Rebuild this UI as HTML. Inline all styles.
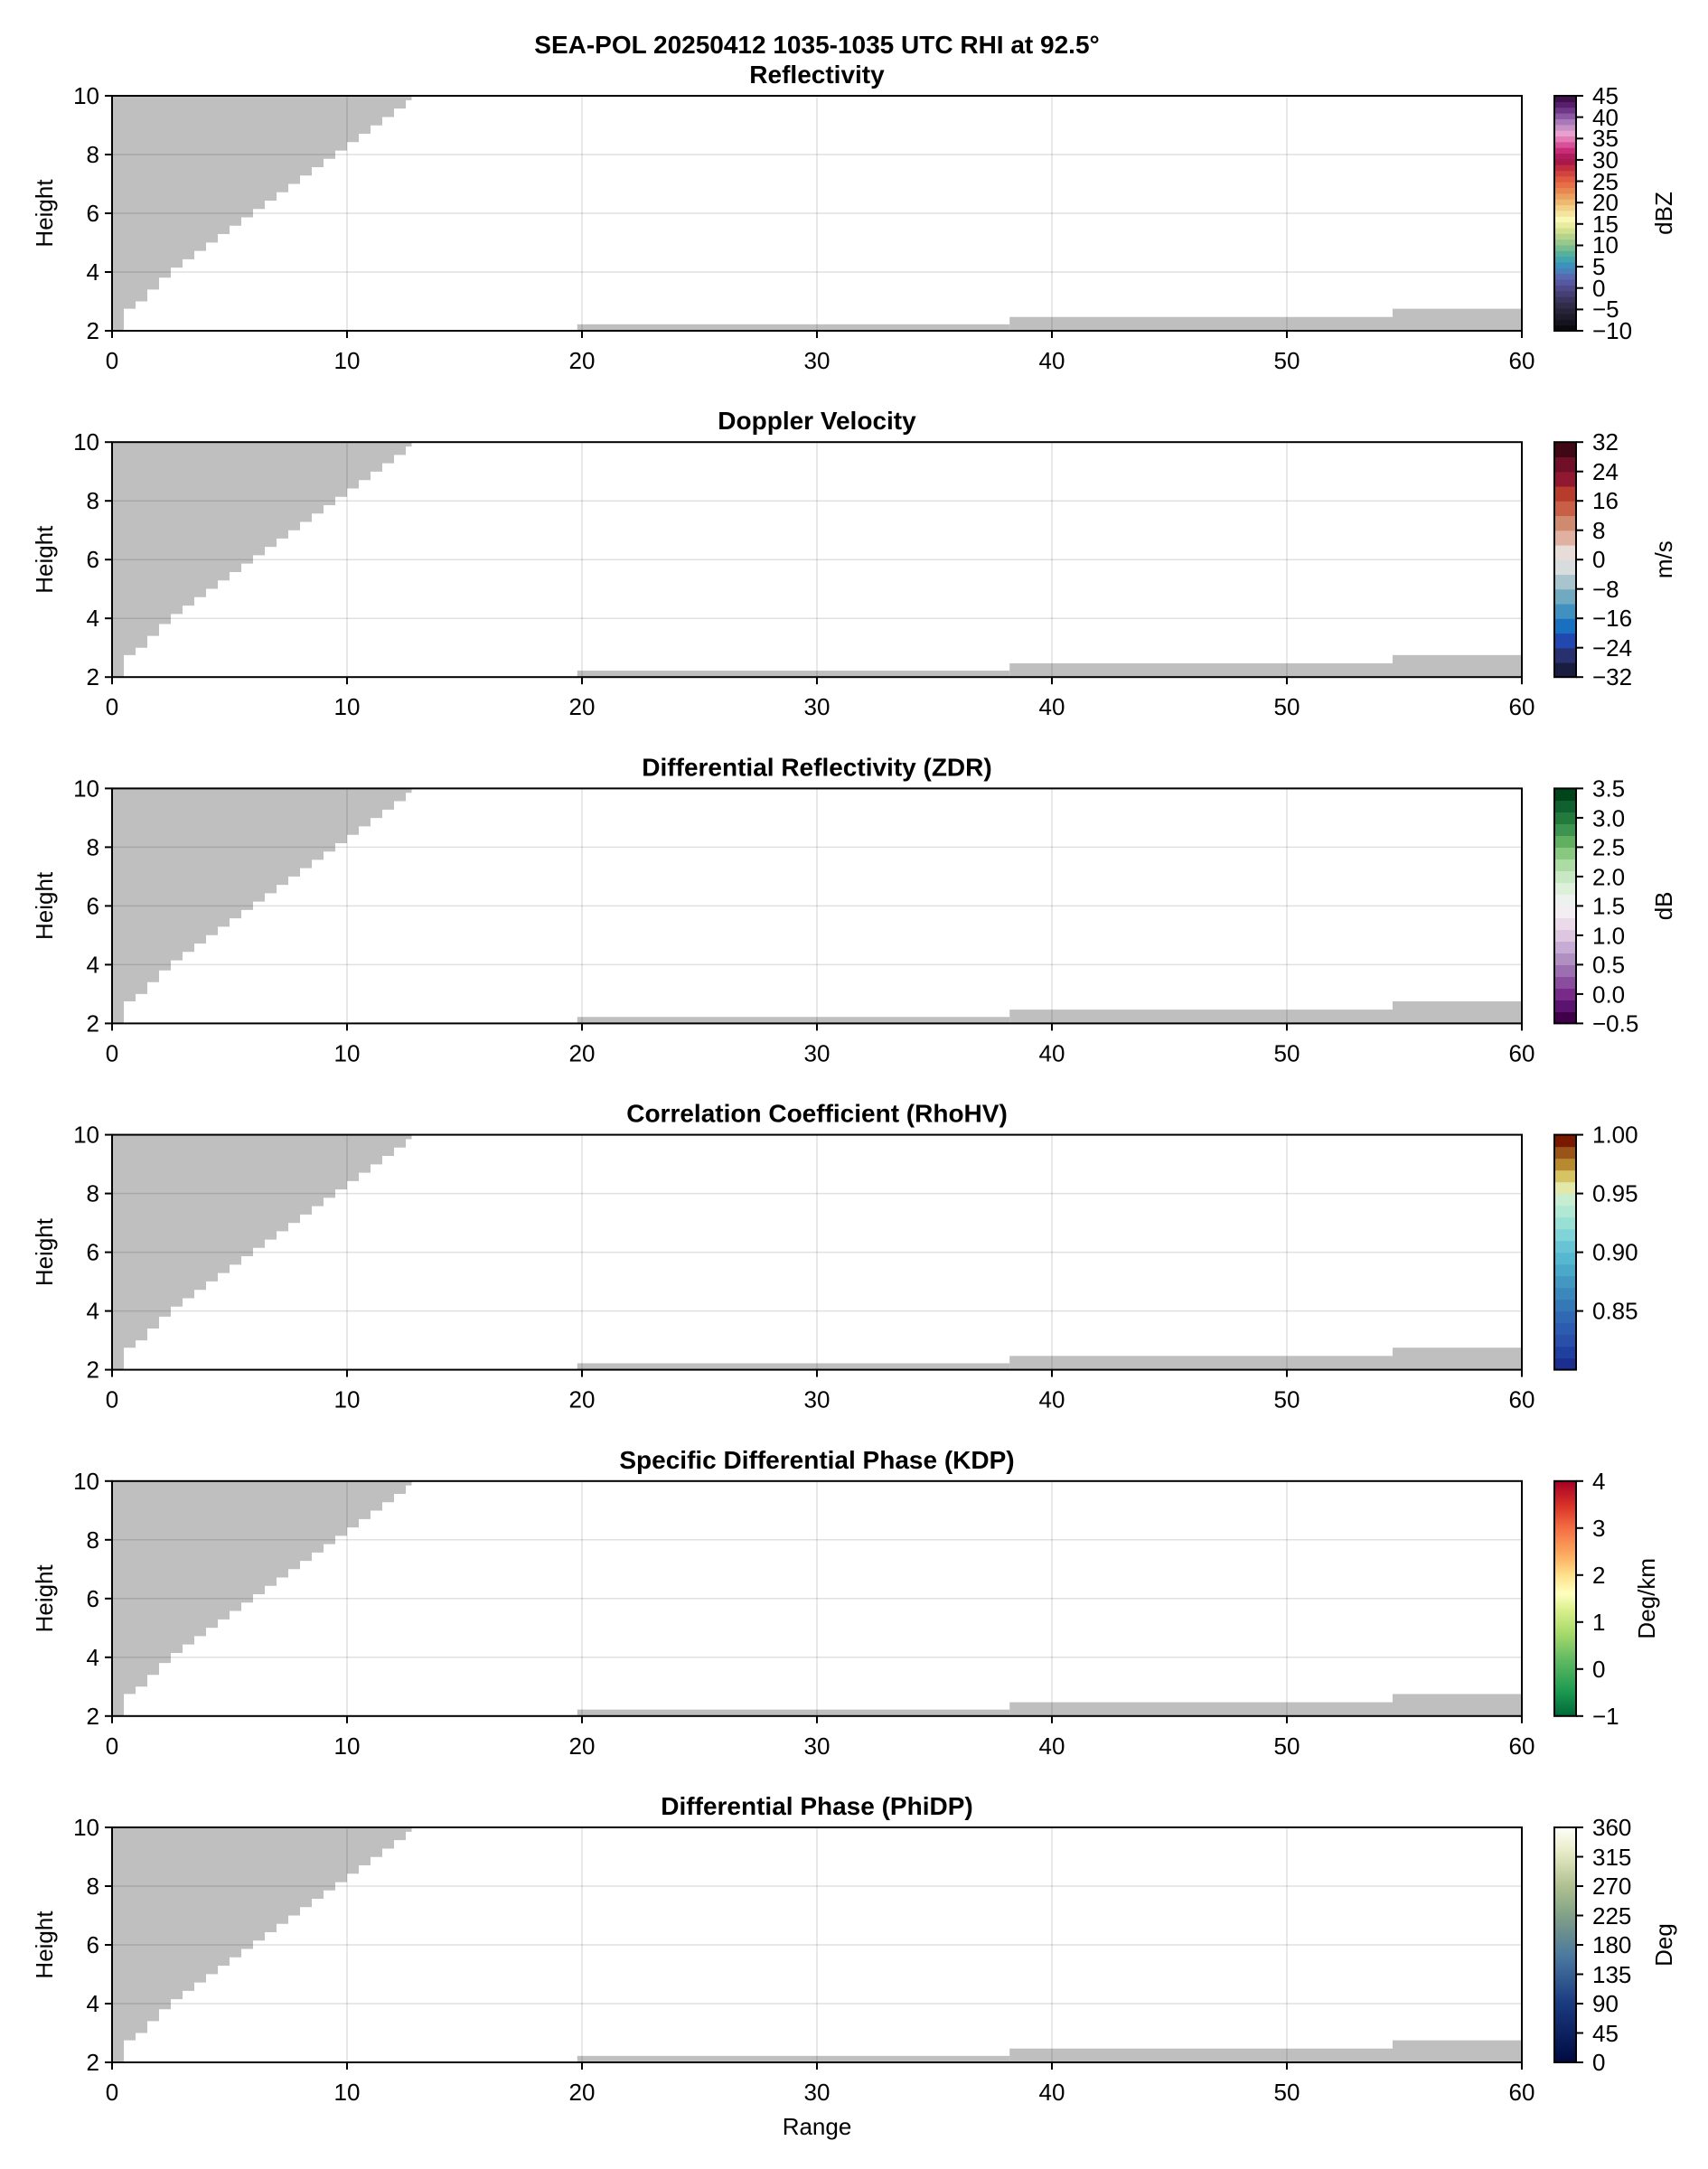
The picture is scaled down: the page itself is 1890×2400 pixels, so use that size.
<!DOCTYPE html>
<html><head><meta charset="utf-8"><style>
html,body{margin:0;padding:0;background:#fff}
svg{display:block;font-family:"Liberation Sans",sans-serif}
text{font-size:26px;fill:#000}
.t{font-weight:bold;text-anchor:middle;font-size:28px}
.yl{text-anchor:end}
.xl{text-anchor:middle}
</style></head><body>
<svg id="s" width="1890" height="2400" viewBox="0 0 1890 2400" xmlns="http://www.w3.org/2000/svg">
<defs>
<linearGradient id="gK" x1="0" y1="1" x2="0" y2="0">
<stop offset="0" stop-color="#006837"/><stop offset="0.1" stop-color="#1a9850"/><stop offset="0.25" stop-color="#66bd63"/><stop offset="0.35" stop-color="#a6d96a"/><stop offset="0.45" stop-color="#d9ef8b"/><stop offset="0.52" stop-color="#ffffbf"/><stop offset="0.6" stop-color="#fee08b"/><stop offset="0.68" stop-color="#fdae61"/><stop offset="0.8" stop-color="#f46d43"/><stop offset="0.9" stop-color="#d73027"/><stop offset="1" stop-color="#a50026"/>
</linearGradient>
<linearGradient id="gP" x1="0" y1="1" x2="0" y2="0">
<stop offset="0" stop-color="#000a40"/><stop offset="0.25" stop-color="#1a3a80"/><stop offset="0.45" stop-color="#4a78a0"/><stop offset="0.55" stop-color="#6a8e8e"/><stop offset="0.65" stop-color="#8aa888"/><stop offset="0.75" stop-color="#b0c090"/><stop offset="0.9" stop-color="#e8ecc8"/><stop offset="1" stop-color="#fffff8"/>
</linearGradient>
</defs>
<text class="t" x="904" y="59">SEA-POL 20250412 1035-1035 UTC RHI at 92.5°</text>

<g transform="translate(0,106)" id="p0">
<text class="t" x="904" y="-14">Reflectivity</text>
<text class="yl" x="110" y="9">10</text><text class="yl" x="110" y="74">8</text><text class="yl" x="110" y="139">6</text><text class="yl" x="110" y="204">4</text><text class="yl" x="110" y="269">2</text>
<text class="xl" x="124" y="302">0</text><text class="xl" x="384" y="302">10</text><text class="xl" x="644" y="302">20</text><text class="xl" x="904" y="302">30</text><text class="xl" x="1164" y="302">40</text><text class="xl" x="1424" y="302">50</text><text class="xl" x="1684" y="302">60</text>
<text transform="translate(58,130) rotate(-90)" class="xl">Height</text>
<text transform="translate(1850,130) rotate(-90)" class="xl">dBZ</text>
<g><text x="1762" y="9">45</text><text x="1762" y="33">40</text><text x="1762" y="56">35</text><text x="1762" y="80">30</text><text x="1762" y="104">25</text><text x="1762" y="127">20</text><text x="1762" y="151">15</text><text x="1762" y="174">10</text><text x="1762" y="198">5</text><text x="1762" y="222">0</text><text x="1762" y="245">−5</text><text x="1762" y="269">−10</text></g>
</g>

<g transform="translate(0,489.2)" id="p1">
<text class="t" x="904" y="-14">Doppler Velocity</text>
<text class="yl" x="110" y="9">10</text><text class="yl" x="110" y="74">8</text><text class="yl" x="110" y="139">6</text><text class="yl" x="110" y="204">4</text><text class="yl" x="110" y="269">2</text>
<text class="xl" x="124" y="302">0</text><text class="xl" x="384" y="302">10</text><text class="xl" x="644" y="302">20</text><text class="xl" x="904" y="302">30</text><text class="xl" x="1164" y="302">40</text><text class="xl" x="1424" y="302">50</text><text class="xl" x="1684" y="302">60</text>
<text transform="translate(58,130) rotate(-90)" class="xl">Height</text>
<text transform="translate(1850,130) rotate(-90)" class="xl">m/s</text>
<g><text x="1762" y="9">32</text><text x="1762" y="42">24</text><text x="1762" y="74">16</text><text x="1762" y="107">8</text><text x="1762" y="139">0</text><text x="1762" y="172">−8</text><text x="1762" y="204">−16</text><text x="1762" y="237">−24</text><text x="1762" y="269">−32</text></g>
</g>

<g transform="translate(0,872.4)" id="p2">
<text class="t" x="904" y="-14">Differential Reflectivity (ZDR)</text>
<text class="yl" x="110" y="9">10</text><text class="yl" x="110" y="74">8</text><text class="yl" x="110" y="139">6</text><text class="yl" x="110" y="204">4</text><text class="yl" x="110" y="269">2</text>
<text class="xl" x="124" y="302">0</text><text class="xl" x="384" y="302">10</text><text class="xl" x="644" y="302">20</text><text class="xl" x="904" y="302">30</text><text class="xl" x="1164" y="302">40</text><text class="xl" x="1424" y="302">50</text><text class="xl" x="1684" y="302">60</text>
<text transform="translate(58,130) rotate(-90)" class="xl">Height</text>
<text transform="translate(1850,130) rotate(-90)" class="xl">dB</text>
<g><text x="1762" y="9">3.5</text><text x="1762" y="42">3.0</text><text x="1762" y="74">2.5</text><text x="1762" y="107">2.0</text><text x="1762" y="139">1.5</text><text x="1762" y="172">1.0</text><text x="1762" y="204">0.5</text><text x="1762" y="237">0.0</text><text x="1762" y="269">−0.5</text></g>
</g>

<g transform="translate(0,1255.6)" id="p3">
<text class="t" x="904" y="-14">Correlation Coefficient (RhoHV)</text>
<text class="yl" x="110" y="9">10</text><text class="yl" x="110" y="74">8</text><text class="yl" x="110" y="139">6</text><text class="yl" x="110" y="204">4</text><text class="yl" x="110" y="269">2</text>
<text class="xl" x="124" y="302">0</text><text class="xl" x="384" y="302">10</text><text class="xl" x="644" y="302">20</text><text class="xl" x="904" y="302">30</text><text class="xl" x="1164" y="302">40</text><text class="xl" x="1424" y="302">50</text><text class="xl" x="1684" y="302">60</text>
<text transform="translate(58,130) rotate(-90)" class="xl">Height</text>
<g><text x="1762" y="9">1.00</text><text x="1762" y="74">0.95</text><text x="1762" y="139">0.90</text><text x="1762" y="204">0.85</text></g>
</g>

<g transform="translate(0,1638.8)" id="p4">
<text class="t" x="904" y="-14">Specific Differential Phase (KDP)</text>
<text class="yl" x="110" y="9">10</text><text class="yl" x="110" y="74">8</text><text class="yl" x="110" y="139">6</text><text class="yl" x="110" y="204">4</text><text class="yl" x="110" y="269">2</text>
<text class="xl" x="124" y="302">0</text><text class="xl" x="384" y="302">10</text><text class="xl" x="644" y="302">20</text><text class="xl" x="904" y="302">30</text><text class="xl" x="1164" y="302">40</text><text class="xl" x="1424" y="302">50</text><text class="xl" x="1684" y="302">60</text>
<text transform="translate(58,130) rotate(-90)" class="xl">Height</text>
<text transform="translate(1831,130) rotate(-90)" class="xl">Deg/km</text>
<g><text x="1762" y="9">4</text><text x="1762" y="61">3</text><text x="1762" y="113">2</text><text x="1762" y="165">1</text><text x="1762" y="217">0</text><text x="1762" y="269">−1</text></g>
</g>

<g transform="translate(0,2022)" id="p5">
<text class="t" x="904" y="-14">Differential Phase (PhiDP)</text>
<text class="yl" x="110" y="9">10</text><text class="yl" x="110" y="74">8</text><text class="yl" x="110" y="139">6</text><text class="yl" x="110" y="204">4</text><text class="yl" x="110" y="269">2</text>
<text class="xl" x="124" y="302">0</text><text class="xl" x="384" y="302">10</text><text class="xl" x="644" y="302">20</text><text class="xl" x="904" y="302">30</text><text class="xl" x="1164" y="302">40</text><text class="xl" x="1424" y="302">50</text><text class="xl" x="1684" y="302">60</text>
<text transform="translate(58,130) rotate(-90)" class="xl">Height</text>
<text transform="translate(1850,130) rotate(-90)" class="xl">Deg</text>
<g><text x="1762" y="9">360</text><text x="1762" y="42">315</text><text x="1762" y="74">270</text><text x="1762" y="107">225</text><text x="1762" y="139">180</text><text x="1762" y="172">135</text><text x="1762" y="204">90</text><text x="1762" y="237">45</text><text x="1762" y="269">0</text></g>
</g>
<text class="xl" x="904" y="2362">Range</text>
</svg>
<script>
(function(){
var NS="http://www.w3.org/2000/svg";
function el(p,n,a,first){var e=document.createElementNS(NS,n);for(var k in a)e.setAttribute(k,a[k]);if(first)p.insertBefore(e,p.firstChild);else p.appendChild(e);return e;}
var pts=[[0,2],[0.5,2.75],[1,3.0],[2.24,4],[5.74,6],[9.7,8.25],[12.5,9.85],[13.5,10.5]];
function f(x){for(var i=0;i<pts.length-1;i++){if(x<=pts[i+1][0]){var a=pts[i],b=pts[i+1];return a[1]+(b[1]-a[1])*(x-a[0])/(b[0]-a[0]);}}return 11;}
function X(r){return 124+26*r;} function Y(h){return 32.5*(10-h);}
var bands={
0:["#0a0a10","#15141e","#1e1c2c","#27243a","#302c4a","#3a355c","#453f72","#4f4a8a","#5758a2","#5a68b0","#4a80b8","#3c92bc","#42a4ac","#56b09c","#78bc90","#98c88c","#b4d48c","#d0e090","#e8eca0","#f8f8b4","#f4e4a0","#f2d088","#eeb870","#eca060","#e88850","#e67048","#e05a40","#d04440","#c02c40","#a81848","#b01c5c","#c82c78","#d85098","#e47cb4","#e8a0d0","#c890c4","#a878b8","#8c58a4","#703888","#58206c","#40104a"],
1:["#1a1c40","#283070","#2048b0","#1a70c0","#4090c0","#70aac0","#a8c4cc","#d8dcdc","#e8dcd8","#e0b0a0","#d08a70","#c86048","#b83c2c","#901830","#701028","#400814"],
2:["#40004a","#5a1470","#782a88","#8a4c9c","#9c70b0","#b090c0","#c6acd4","#dcc6e0","#eadaea","#f2eef2","#eef2ee","#dcf0da","#c8e8c4","#acdca4","#88c880","#60b060","#3c9450","#227a3c","#106030","#00441c"],
3:["#1c2f90","#2040a0","#2850a8","#2c5cb0","#3068b4","#3578b8","#3a88bc","#4298c0","#4aa8c8","#56b8d0","#68c4d4","#80d4d8","#98e0d4","#b0e8d4","#c8ecd0","#e2e8a8","#d6c464","#b88a30","#9a5418","#7a1800"]};
var cbt={0:[0,23.6,47.3,70.9,94.5,118.2,141.8,165.5,189.1,212.7,236.4,260],1:[0,32.5,65,97.5,130,162.5,195,227.5,260],2:[0,32.5,65,97.5,130,162.5,195,227.5,260],3:[0,65,130,195],4:[0,52,104,156,208,260],5:[0,32.5,65,97.5,130,162.5,195,227.5,260]};
for(var p=0;p<6;p++){
 var g=document.getElementById("p"+p);
 var bg=el(g,"g",{},true);
 var d="M124 0 L124 "+Y(2)+" L"+X(0.5)+" "+Y(2);
 for(var k=1;k<26;k++){var x0=k*0.5,x1=Math.min(x0+0.5,12.75);var h=f(x0);
  d+=" L"+X(x0)+" "+Y(h)+" L"+X(x1)+" "+Y(h);
  if(x1>=12.75)break;}
 d+=" L"+X(12.75)+" 0 Z";
 el(bg,"path",{d:d,fill:"#bfbfbf"});
 el(bg,"rect",{x:X(19.8),y:Y(2.22),width:X(38.2)-X(19.8),height:Y(2)-Y(2.22),fill:"#bfbfbf"});
 el(bg,"rect",{x:X(38.2),y:Y(2.47),width:X(54.5)-X(38.2),height:Y(2)-Y(2.47),fill:"#bfbfbf"});
 el(bg,"rect",{x:X(54.5),y:Y(2.75),width:X(60)-X(54.5),height:Y(2)-Y(2.75),fill:"#bfbfbf"});
 for(var i=1;i<6;i++)el(bg,"line",{x1:X(10*i),x2:X(10*i),y1:0,y2:260,stroke:"rgba(0,0,0,0.12)","stroke-width":1.5});
 [65,130,195].forEach(function(y){el(bg,"line",{x1:124,x2:1684,y1:y,y2:y,stroke:"rgba(0,0,0,0.12)","stroke-width":1.5});});
 el(bg,"rect",{x:124,y:0,width:1560,height:260,fill:"none",stroke:"#000","stroke-width":2});
 [0,65,130,195,260].forEach(function(y){el(bg,"line",{x1:116,x2:124,y1:y,y2:y,stroke:"#000","stroke-width":2});});
 for(var i=0;i<7;i++)el(bg,"line",{x1:X(10*i),x2:X(10*i),y1:260,y2:268,stroke:"#000","stroke-width":2});
 if(bands[p]){var b=bands[p],n=b.length,hh=260/n;for(var j=0;j<n;j++)el(bg,"rect",{x:1720,y:260-(j+1)*hh,width:24,height:hh+0.6,fill:b[j]});}
 else el(bg,"rect",{x:1720,y:0,width:24,height:260,fill:p==4?"url(#gK)":"url(#gP)"});
 el(bg,"rect",{x:1720,y:0,width:24,height:260,fill:"none",stroke:"#000","stroke-width":2});
 cbt[p].forEach(function(y){el(bg,"line",{x1:1744,x2:1752,y1:y,y2:y,stroke:"#000","stroke-width":2});});
}
})();
</script>
</body></html>
